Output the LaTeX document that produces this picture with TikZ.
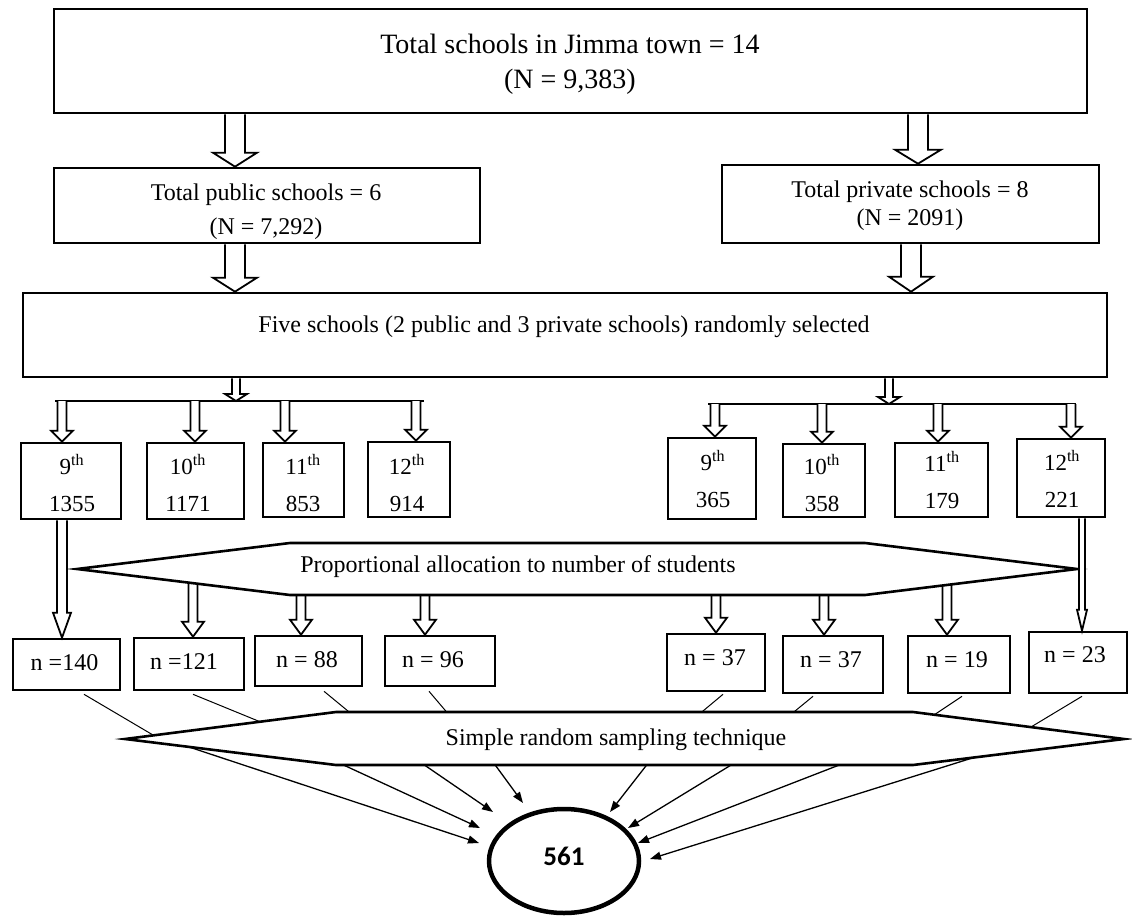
\documentclass[tikz,border=0pt]{standalone}
\usepackage{fontspec}
\setmainfont{Liberation Serif}
\newfontfamily\calibfont{Carlito}
\usetikzlibrary{arrows.meta,calc,shapes.geometric}
% hollow block arrow: #1 x (pt), #2 source point, #3 target point, #4 shaft half width, #5 head half width, #6 head length
\newcommand\blkarr[6]{%
  \draw[blk] let \p1=#2, \p2=#3 in
    (#1pt-#4pt,\y1) -- (#1pt-#4pt,\y2+#6pt) -- (#1pt-#5pt,\y2+#6pt) -- (#1pt,\y2)
    -- (#1pt+#5pt,\y2+#6pt) -- (#1pt+#4pt,\y2+#6pt) -- (#1pt+#4pt,\y1);}
\begin{document}
\begin{tikzpicture}[x=1pt,y=-1pt,
  box/.style={draw,line width=2.6pt,inner sep=0pt,rectangle},
  txt/.style={inner sep=0pt,align=center,font=\fontsize{24}{34}\selectfont},
  gtxt/.style={inner sep=0pt,align=center,font=\fontsize{23}{37}\selectfont},
  blk/.style={draw,fill=white,line width=1.8pt,line join=miter},
  thinline/.style={line width=1pt},
  tiparrow/.style={line width=1.3pt,-{Triangle[length=11pt,width=8pt]}},
  hex/.style={draw,fill=white,line width=2.6pt,line join=miter},
  busline/.style={line width=2.6pt}]
\useasboundingbox (0,0) rectangle (1132,920);

% ---------- upper boxes ----------
\node[box,minimum width=1033pt,minimum height=104pt] (top) at (570.5,61) {};
\node[txt,font=\fontsize{28}{35}\selectfont] (topt) at (570,64) {Total schools in Jimma town = 14\\(N = 9,383)};
\node[box,minimum width=426pt,minimum height=75pt] (pub) at (267,205.5) {};
\node[txt] (pubt) at (266,212) {Total public schools = 6\\(N = 7,292)};
\node[box,minimum width=377pt,minimum height=78pt] (priv) at (910.5,204) {};
\node[txt,font=\fontsize{24}{28}\selectfont] (privt) at (910,206) {Total private schools = 8\\(N = 2091)};
\node[box,minimum width=1084pt,minimum height=84pt] (five) at (565,335) {};
\node[txt] (fivet) at (564,327) {Five schools (2 public and 3 private schools) randomly selected};

\blkarr{235}{(top.south)}{(pub.north)}{10}{22}{14}
\blkarr{918}{(top.south)}{(priv.north)}{10}{23}{14}
\blkarr{235}{(pub.south)}{(five.north)}{10}{22}{14}
\blkarr{911}{(priv.south)}{(five.north)}{10}{22}{15}

% ---------- grade boxes ----------
\node[box,minimum width=100pt,minimum height=76pt] (g9) at (71,481) {};
\node[box,minimum width=97pt,minimum height=76pt] (g10) at (195.5,481) {};
\node[box,minimum width=81pt,minimum height=74pt] (g11) at (303.5,480) {};
\node[box,minimum width=82pt,minimum height=75pt] (g12) at (409,479.5) {};
\node[box,minimum width=88pt,minimum height=81pt] (p9) at (712,478.5) {};
\node[box,minimum width=82pt,minimum height=73pt] (p10) at (824,480.5) {};
\node[box,minimum width=93pt,minimum height=74pt] (p11) at (941.5,480) {};
\node[box,minimum width=88pt,minimum height=78pt] (p12) at (1061,478) {};

\node[gtxt] (g9t) at (72,483) {9\textsuperscript{th}\\1355};
\node[gtxt] (g10t) at (188,483) {10\textsuperscript{th}\\1171};
\node[gtxt] (g11t) at (303,483) {11\textsuperscript{th}\\853};
\node[gtxt] (g12t) at (407,483) {12\textsuperscript{th}\\914};
\node[gtxt] (p9t) at (713,479) {9\textsuperscript{th}\\365};
\node[gtxt] (p10t) at (822,483) {10\textsuperscript{th}\\358};
\node[gtxt] (p11t) at (942,480) {11\textsuperscript{th}\\179};
\node[gtxt] (p12t) at (1062,479) {12\textsuperscript{th}\\221};

% ---------- bus lines ----------
\coordinate (busL) at (55,401);
\coordinate (busLe) at (424,401);
\coordinate (busR) at (708,404);
\coordinate (busRe) at (1076,404);
\draw[busline] (busL) -- (busLe);
\draw[busline] (busR) -- (busRe);
\blkarr{236}{(five.south)}{(busL)}{4}{11}{7}
\blkarr{889}{(five.south)}{(busR)}{4}{11}{7}
\blkarr{62}{(busL)}{(g9.north)}{4.5}{11}{11}
\blkarr{195}{(busL)}{(g10.north)}{4.5}{11}{11}
\blkarr{285}{(busL)}{(g11.north)}{4.5}{11}{11}
\blkarr{416}{(busL)}{(g12.north)}{4.5}{11}{11}
\blkarr{715}{(busR)}{(p9.north)}{4.5}{11}{11}
\blkarr{822}{(busR)}{(p10.north)}{4.5}{11}{11}
\blkarr{938}{(busR)}{(p11.north)}{4.5}{11}{11}
\blkarr{1071}{(busR)}{(p12.north)}{4.5}{11}{11}

% ---------- sample boxes ----------
\node[box,minimum width=107pt,minimum height=51pt] (n140) at (66.5,664.5) {};
\node[box,minimum width=110pt,minimum height=52pt] (n121) at (189,664) {};
\node[box,minimum width=107pt,minimum height=50pt] (n88) at (308.5,661) {};
\node[box,minimum width=110pt,minimum height=50pt] (n96) at (440,661) {};
\node[box,minimum width=98pt,minimum height=57pt] (n37a) at (716,662.5) {};
\node[box,minimum width=100pt,minimum height=57pt] (n37b) at (833,664.5) {};
\node[box,minimum width=102pt,minimum height=57pt] (n19) at (959,664.5) {};
\node[box,minimum width=98pt,minimum height=61pt] (n23) at (1078,662.5) {};

\node[txt] (n140t) at (64.5,663) {n =140};
\node[txt] (n121t) at (184,662) {n =121};
\node[txt] (n88t) at (307,660) {n = 88};
\node[txt] (n96t) at (433,660) {n = 96};
\node[txt] (n37at) at (715,658) {n = 37};
\node[txt] (n37bt) at (831,660) {n = 37};
\node[txt] (n19t) at (957,660) {n = 19};
\node[txt] (n23t) at (1075,655) {n = 23};

% ---------- proportional allocation ----------
\coordinate (propC) at (0,569);
\blkarr{193}{(propC)}{(n121.north)}{4.5}{11}{15}
\blkarr{301}{(propC)}{(n88.north)}{4.5}{11}{15}
\blkarr{425}{(propC)}{(n96.north)}{4.5}{11}{15}
\blkarr{716}{(propC)}{(n37a.north)}{4.5}{11}{15}
\blkarr{824}{(propC)}{(n37b.north)}{4.5}{11}{15}
\blkarr{947}{(propC)}{(n19.north)}{4.5}{11}{15}
\draw[hex] (77,569) -- (290,543) -- (865,543) -- (1077,569) -- (865,595) -- (290,595) -- cycle;
\node[txt] (prop) at (518,567) {Proportional allocation to number of students};
\blkarr{62}{(g9.south)}{(n140.north)}{5}{9}{25}
\blkarr{1082}{(p12.south)}{(n23.north)}{3}{5}{21}

% ---------- simple random sampling ----------
\node[draw,ellipse,line width=4.5pt,minimum width=150pt,minimum height=104pt,inner sep=0pt] (e561) at (564,861) {};
\node[inner sep=0pt,font=\calibfont\bfseries\fontsize{27}{30}\selectfont] (e561t) at (564,856) {561};

\coordinate (h1) at (153,735);
\coordinate (h2) at (268,725);
\coordinate (h3) at (354,716);
\coordinate (h4) at (450,716);
\coordinate (h5) at (697,716);
\coordinate (h6) at (789,716);
\coordinate (h7) at (934,715);
\coordinate (h8) at (1026,730);
\draw[thinline] ([xshift=17.5pt,yshift=-3pt]n140.south) -- (h1);
\draw[thinline] ([xshift=4pt,yshift=-3pt]n121.south) -- (h2);
\draw[thinline] ([xshift=15.5pt,yshift=-4pt]n88.south) -- (h3);
\draw[thinline] ([xshift=-11pt,yshift=-4pt]n96.south) -- (h4);
\draw[thinline] ([xshift=7pt,yshift=-2pt]n37a.south) -- (h5);
\draw[thinline] ([xshift=-20pt,yshift=-2pt]n37b.south) -- (h6);
\draw[thinline] ([xshift=3pt,yshift=-2pt]n19.south) -- (h7);
\draw[thinline] ([xshift=4pt,yshift=-2pt]n23.south) -- (h8);

\coordinate (s1) at (180,744);  \coordinate (t1) at (479,843);
\coordinate (s2) at (337,762);  \coordinate (t2) at (480,828);
\coordinate (s3) at (420,762);  \coordinate (t3) at (493,812);
\coordinate (s4) at (493,762);  \coordinate (t4) at (523,803);
\coordinate (s5) at (649,762);  \coordinate (t5) at (610,812);
\coordinate (s6) at (736,762);  \coordinate (t6) at (628,828);
\coordinate (s7) at (847,762);  \coordinate (t7) at (638,843);
\coordinate (s8) at (985,754);  \coordinate (t8) at (650,859);
\foreach \i in {1,...,8} {\draw[tiparrow] (s\i) -- (t\i);}

\draw[hex] (125,739) -- (336,712) -- (913,712) -- (1124,739) -- (913,765) -- (336,765) -- cycle;
\node[txt] (srs) at (616,740) {Simple random sampling technique};
\end{tikzpicture}
\end{document}
